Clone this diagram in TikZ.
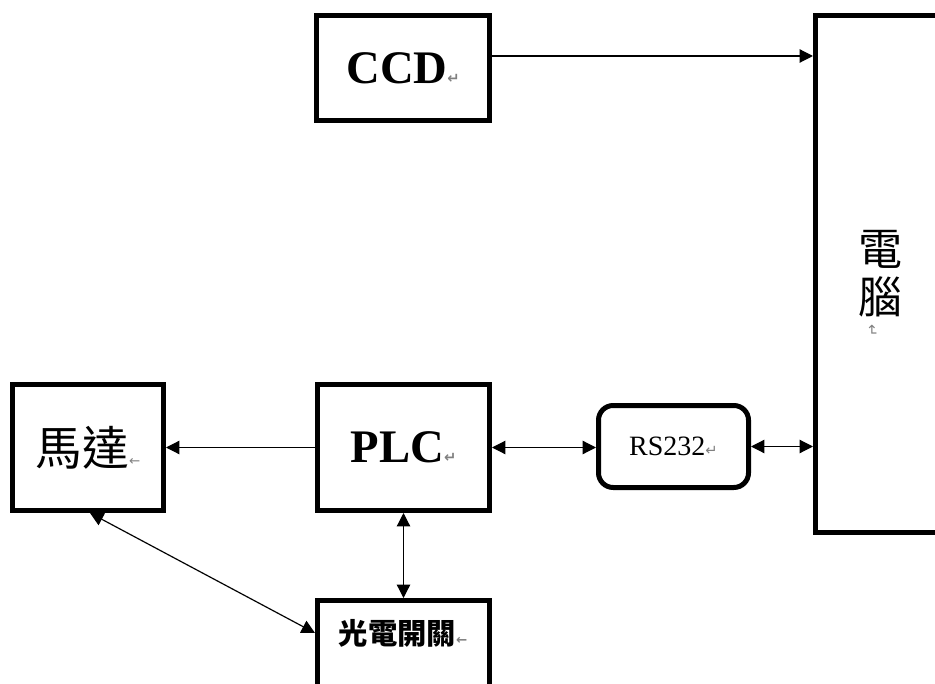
\documentclass[tikz,border=0pt]{standalone}
\usepackage{fontspec}
\setmainfont{Liberation Serif}
\newfontfamily\cjk{Noto Sans CJK TC}
\newfontfamily\symfont{DejaVu Sans}
\usetikzlibrary{arrows.meta}

% small grey paragraph marks as printed in the scan
\newcommand{\retmark}{{\symfont\fontsize{11pt}{11pt}\selectfont\color{gray}↵}}
\newcommand{\backmark}{{\symfont\fontsize{10pt}{10pt}\selectfont\color{gray}←}}

\tikzset{
  block/.style={draw, line width=3.75pt, inner sep=0pt},
  link/.style={line width=0.9pt, -{Triangle[length=10pt,width=10pt]}},
  duplex/.style={line width=0.9pt, {Triangle[length=10pt,width=10pt]}-{Triangle[length=10pt,width=10pt]}},
}

\begin{document}
\begin{tikzpicture}[x=0.75pt, y=-0.75pt]
  \useasboundingbox (0,0) rectangle (935,684);
  \clip (0,0) rectangle (935,684);

  % blocks
  \node[block, minimum width=129.75pt, minimum height=78.75pt] (ccd) at (403,68)
    {\fontsize{35pt}{35pt}\selectfont\bfseries CCD\retmark};
  \node[block, minimum width=123.4pt, minimum height=387.75pt] (pc) at (897.75,274) {};
  \node[align=center, font={\cjk\fontsize{33pt}{36pt}\selectfont}] (pctext) at (880,274)
    {電\\腦};
  \node[rotate=-90] (pcmark) at (872,331) {\retmark};

  \node[block, minimum width=113.25pt, minimum height=94.5pt] (motor) at (88,447.5)
    {\cjk\fontsize{35pt}{35pt}\selectfont 馬達\backmark};
  \node[block, minimum width=129pt, minimum height=94.5pt] (plc) at (403.5,447.5)
    {\fontsize{35pt}{35pt}\selectfont\bfseries PLC\retmark};
  \node[block, rounded corners=11pt, minimum width=112.5pt, minimum height=61.5pt] (rs) at (673.5,446.5)
    {\fontsize{21pt}{21pt}\selectfont RS232\retmark};
  \node[block, minimum width=129pt, minimum height=74.6pt] (sw) at (403.5,650.25) {};
  \node (swtext) at (403,633)
    {\cjk\fontsize{22pt}{22pt}\selectfont\bfseries 光電開關\backmark};

  % connections
  \draw[link] ([yshift=9pt]ccd.east) -- ([yshift=9pt]ccd.east -| pc.west);
  \draw[link] (plc.west) -- (motor.east);
  \draw[duplex] (plc.east) -- (plc.east -| rs.west);
  \draw[duplex] (rs.east) -- (rs.east -| pc.west);
  \draw[duplex] (plc.south) -- (sw.north);
  \draw[duplex] ([xshift=1.5pt]motor.south) -- (sw.west |- swtext.center);

\end{tikzpicture}
\end{document}
